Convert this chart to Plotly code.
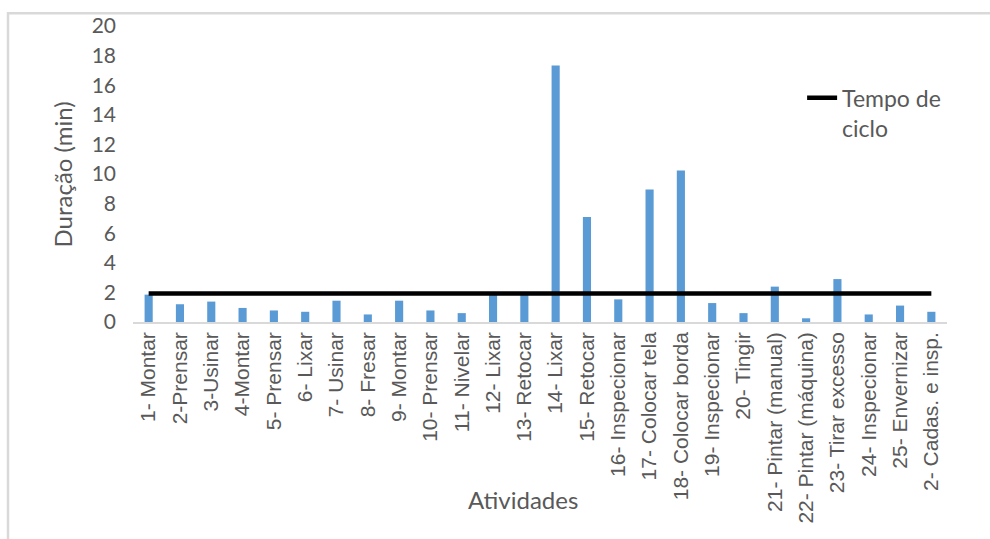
import plotly.graph_objects as go

# Activities of the production process and their measured durations (min)
atividades = [
    "1- Montar", "2-Prensar", "3-Usinar", "4-Montar", "5- Prensar", "6- Lixar",
    "7- Usinar", "8- Fresar", "9- Montar", "10- Prensar", "11- Nivelar",
    "12- Lixar", "13- Retocar", "14- Lixar", "15- Retocar", "16- Inspecionar",
    "17- Colocar tela", "18- Colocar borda", "19- Inspecionar", "20- Tingir",
    "21- Pintar (manual)", "22- Pintar (máquina)", "23- Tirar excesso",
    "24- Inspecionar", "25- Envernizar", "2- Cadas. e insp.",
]
duracao = [
    1.85, 1.2, 1.38, 0.95, 0.78, 0.69,
    1.44, 0.51, 1.44, 0.78, 0.6,
    1.85, 1.85, 17.33, 7.09, 1.53,
    8.96, 10.24, 1.28, 0.6,
    2.39, 0.25, 2.9,
    0.51, 1.11, 0.69,
]
# Cycle time, constant across all activities
tempo_ciclo = [
    1.93, 1.93, 1.93, 1.93, 1.93, 1.93, 1.93, 1.93, 1.93, 1.93, 1.93, 1.93, 1.93,
    1.93, 1.93, 1.93, 1.93, 1.93, 1.93, 1.93, 1.93, 1.93, 1.93, 1.93, 1.93, 1.93,
]
y_ticks = [0, 2, 4, 6, 8, 10, 12, 14, 16, 18, 20]

GRAY = "#595959"
SANS = "Lato, 'Open Sans', sans-serif"

fig = go.Figure()
fig.add_trace(go.Bar(
    x=atividades, y=duracao, name="Duração",
    marker=dict(color="#5B9BD5", line=dict(width=0)),
    showlegend=False,
))
fig.add_trace(go.Scatter(
    x=atividades, y=tempo_ciclo, name="Tempo de<br>ciclo",
    mode="lines", line=dict(color="black", width=4.5),
))

fig.update_layout(
    width=990, height=539,
    margin=dict(l=133, r=43, t=19, b=217),
    paper_bgcolor="white", plot_bgcolor="white",
    bargap=0.74,
    showlegend=True,
    legend=dict(
        x=0.822, y=0.83, xanchor="left", yanchor="top",
        font=dict(family=SANS, size=23, color=GRAY),
        valign="top", bgcolor="rgba(0,0,0,0)",
    ),
    xaxis=dict(
        type="category", tickangle=-90, showgrid=False,
        showline=True, linecolor="#d9d9d9", linewidth=1.5,
        ticks="", tickfont=dict(family="'Liberation Sans', Arial, sans-serif", size=21, color=GRAY),
    ),
    yaxis=dict(
        range=[0, 20], tickvals=y_ticks, showgrid=False, zeroline=False,
        showline=False, ticks="", ticklabelstandoff=16,
        tickfont=dict(family=SANS, size=21, color=GRAY),
    ),
    annotations=[
        dict(text="Duração (min)", xref="paper", yref="paper",
             x=(62 - 133) / 814, y=(322 - 171) / 303, textangle=-90,
             showarrow=False, font=dict(family=SANS, size=24, color=GRAY),
             xanchor="center", yanchor="middle"),
        dict(text="Atividades", xref="paper", yref="paper",
             x=(523 - 133) / 814, y=(322 - 504) / 303,
             showarrow=False, font=dict(family=SANS, size=24, color=GRAY),
             xanchor="center", yanchor="middle"),
    ],
    shapes=[
        # chart-area frame
        dict(type="rect", xref="paper", yref="paper",
             x0=(8 - 133) / 814, x1=(1000 - 133) / 814,
             y0=(322 - 560) / 303, y1=(322 - 6) / 303,
             line=dict(color="#d9d9d9", width=2.5), fillcolor="rgba(0,0,0,0)"),
    ],
)

fig.write_html("out.html")
